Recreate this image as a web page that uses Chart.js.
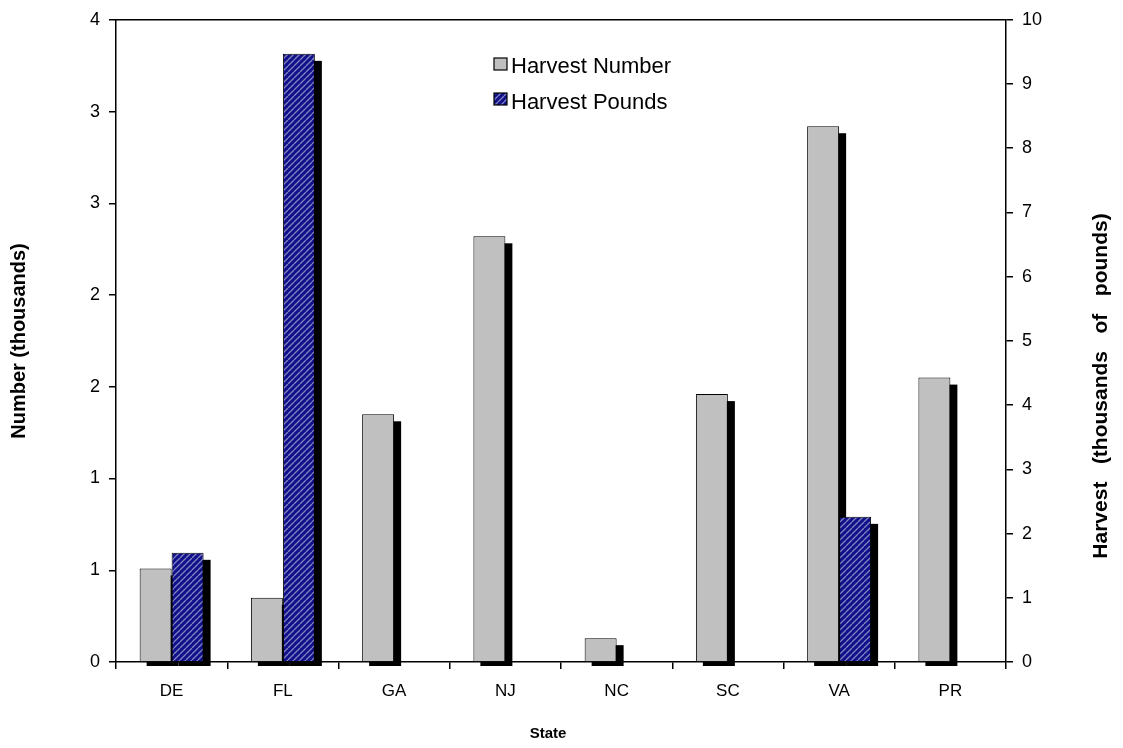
<!DOCTYPE html>
<html>
<head>
<meta charset="utf-8">
<script src="https://cdn.jsdelivr.net/npm/chart.js@4/dist/chart.umd.min.js"></script>
<style>
html,body{margin:0;padding:0;background:#fff;}
#wrap{width:1123px;height:748px;position:relative;}
</style>
</head>
<body>
<div id="wrap"><canvas id="c"></canvas></div>
<script>
const categories = ['DE','FL','GA','NJ','NC','SC','VA','PR'];
const harvestNumber = [0.51, 0.35, 1.35, 2.32, 0.13, 1.46, 2.92, 1.55];
const harvestPounds = [1.70, 9.47, 0, 0, 0, 0, 2.26, 0];
const leftTickLabels = ['0','1','1','2','2','3','3','4'];
const rightTickLabels = ['0','1','2','3','4','5','6','7','8','9','10'];
const seriesNames = ['Harvest Number','Harvest Pounds'];
const axisTitles = {x:'State', left:'Number (thousands)', right:'Harvest   (thousands   of   pounds)'};

function hatch(){
  const s = 6;
  const c = document.createElement('canvas');
  c.width = s; c.height = s;
  const g = c.getContext('2d');
  g.fillStyle = '#10108a';
  g.fillRect(0,0,s,s);
  g.strokeStyle = '#8282c2';
  g.lineWidth = 1.3;
  for (let k=-1;k<=1;k++){
    g.beginPath();
    g.moveTo(k*s, s);
    g.lineTo(k*s + s, 0);
    g.stroke();
  }
  return g.createPattern(c,'repeat');
}
const pat = hatch();

const FONT = '"Liberation Sans", Arial, sans-serif';

const shadowPlugin = {
  id:'shadow',
  beforeDatasetsDraw(chart){
    const ctx = chart.ctx;
    const a = chart.chartArea;
    ctx.save();
    ctx.beginPath();
    ctx.rect(a.left, a.top, a.right - a.left + 10, a.bottom - a.top + 4);
    ctx.clip();
    ctx.fillStyle = '#000';
    chart.data.datasets.forEach((ds, di) => {
      const meta = chart.getDatasetMeta(di);
      meta.data.forEach(el => {
        const p = el.getProps(['x','y','base','width'], true);
        const h = Math.abs(p.base - p.y);
        if (h < 0.5) return;
        const top = Math.min(p.base, p.y);
        ctx.fillRect(p.x - p.width/2 + 7, top + 7, p.width, h);
      });
    });
    ctx.restore();
  }
};

const decorPlugin = {
  id:'decor',
  afterDraw(chart){
    const ctx = chart.ctx;
    const a = chart.chartArea;
    ctx.save();
    ctx.strokeStyle = '#000';
    ctx.lineWidth = 1.5;
    ctx.beginPath();
    ctx.moveTo(a.left, a.top);
    ctx.lineTo(a.right, a.top);
    ctx.stroke();
    ctx.fillStyle = '#000';
    ctx.textAlign = 'center';
    ctx.textBaseline = 'middle';
    ctx.font = 'bold 15px ' + FONT;
    ctx.fillText(axisTitles.x, 548, 734);
    ctx.font = 'bold 20px ' + FONT;
    ctx.save();
    ctx.translate(19, 341);
    ctx.rotate(-Math.PI/2);
    ctx.fillText(axisTitles.left, 0, 0);
    ctx.restore();
    ctx.font = 'bold 21px ' + FONT;
    ctx.save();
    ctx.translate(1101, 386);
    ctx.rotate(-Math.PI/2);
    ctx.fillText(axisTitles.right, 0, 0);
    ctx.restore();
    ctx.font = '22px ' + FONT;
    ctx.textAlign = 'left';
    ctx.textBaseline = 'alphabetic';
    const items = [
      {fill:'#c0c0c0', y:58, base:73},
      {fill:pat, y:93, base:109}
    ];
    items.forEach((it, i) => {
      ctx.fillStyle = it.fill;
      ctx.fillRect(494, it.y, 13, 12);
      ctx.strokeStyle = '#000';
      ctx.lineWidth = 1.2;
      ctx.strokeRect(494, it.y, 13, 12);
      ctx.fillStyle = '#000';
      ctx.fillText(seriesNames[i], 511, it.base);
    });
    ctx.restore();
  }
};

new Chart(document.getElementById('c'), {
  type:'bar',
  data:{
    labels: categories,
    datasets:[
      {label: seriesNames[0], data: harvestNumber, yAxisID:'y',
       backgroundColor:'#c0c0c0', borderColor:'#000', borderWidth:1,
       categoryPercentage:0.575, barPercentage:1},
      {label: seriesNames[1], data: harvestPounds, yAxisID:'y1',
       backgroundColor: pat, borderColor:'#000', borderWidth:1,
       categoryPercentage:0.575, barPercentage:1}
    ]
  },
  options:{
    responsive:true,
    maintainAspectRatio:false,
    animation:false,
    devicePixelRatio:1,
    layout:{padding:{top:15, left:0, right:0, bottom:0}},
    plugins:{legend:{display:false}, tooltip:{enabled:false}, title:{display:false}},
    scales:{
      x:{
        offset:true,
        grid:{display:true, offset:true, drawOnChartArea:false, drawTicks:true, tickLength:7, color:'#000', lineWidth:1.5},
        border:{display:true, color:'#000', width:1.5},
        ticks:{color:'#000', font:{family:FONT, size:17}, padding:12, maxRotation:0},
        afterFit(s){ s.height = 86; }
      },
      y:{
        position:'left', min:0, max:3.5,
        grid:{drawOnChartArea:false, drawTicks:true, tickLength:7, color:'#000', lineWidth:1.5},
        border:{display:true, color:'#000', width:1.5},
        ticks:{stepSize:0.5, color:'#000', font:{family:FONT, size:18}, padding:9,
               callback:(v,i)=>leftTickLabels[i]},
        afterFit(s){ s.width = 116; }
      },
      y1:{
        position:'right', min:0, max:10,
        grid:{drawOnChartArea:false, drawTicks:true, tickLength:7, color:'#000', lineWidth:1.5},
        border:{display:true, color:'#000', width:1.5},
        ticks:{stepSize:1, color:'#000', font:{family:FONT, size:18}, padding:9,
               callback:(v,i)=>rightTickLabels[i]},
        afterFit(s){ s.width = 117; }
      }
    }
  },
  plugins:[shadowPlugin, decorPlugin]
});
</script>
</body>
</html>
